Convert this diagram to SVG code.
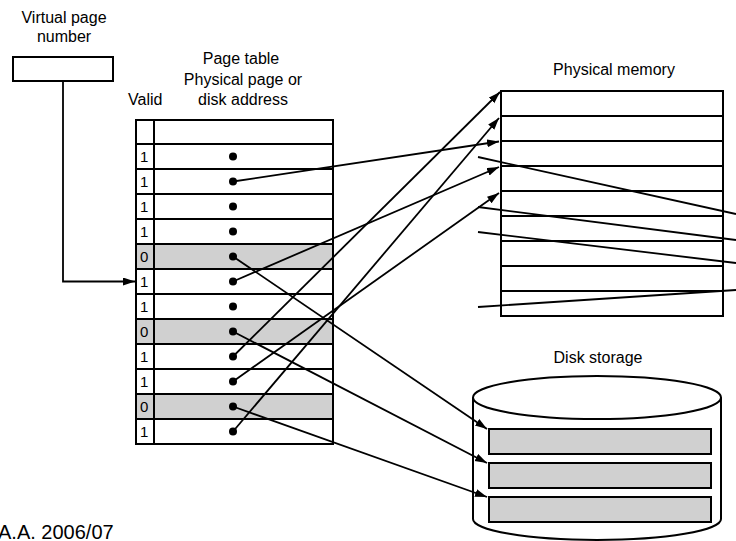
<svg xmlns="http://www.w3.org/2000/svg" width="736" height="541" viewBox="0 0 736 541">
<style>
text{font-family:"Liberation Sans",Arial,sans-serif;fill:#000}
.lbl{font-size:16px}
.mid{text-anchor:middle}
.bit{font-size:15px}
.box{fill:#fff;stroke:#000;stroke-width:2}
.shade{fill:#d0d0d0;stroke:#000;stroke-width:2}
.ln{stroke:#000;stroke-width:2;fill:none}
.conn{stroke:#000;stroke-width:1.8;fill:none}
.arr{marker-end:url(#ah)}
.dot{fill:#000}
</style>
<defs>
<marker id="ah" markerUnits="userSpaceOnUse" markerWidth="13" markerHeight="9" refX="12" refY="4" orient="auto">
<path d="M0,0 L12,4 L0,8 z" fill="#000"/>
</marker>
</defs>
<rect width="736" height="541" fill="#fff"/>

<g id="vpn">
<text class="lbl mid" x="64" y="23">Virtual page</text>
<text class="lbl mid" x="64" y="42">number</text>
<rect class="box" x="13" y="57" width="100" height="24"/>
</g>

<g id="page-table">
<text class="lbl mid" x="241" y="64">Page table</text>
<text class="lbl mid" x="243" y="85">Physical page or</text>
<text class="lbl mid" x="243" y="105">disk address</text>
<text class="lbl" x="128" y="105">Valid</text>
<rect class="box" x="136" y="120" width="197" height="324"/>
<rect class="box" x="136" y="144" width="197" height="25"/>
<rect class="box" x="136" y="169" width="197" height="25"/>
<rect class="box" x="136" y="194" width="197" height="25"/>
<rect class="box" x="136" y="219" width="197" height="25"/>
<rect class="shade" x="136" y="244" width="197" height="25"/>
<rect class="box" x="136" y="269" width="197" height="25"/>
<rect class="box" x="136" y="294" width="197" height="25"/>
<rect class="shade" x="136" y="319" width="197" height="25"/>
<rect class="box" x="136" y="344" width="197" height="25"/>
<rect class="box" x="136" y="369" width="197" height="25"/>
<rect class="shade" x="136" y="394" width="197" height="25"/>
<rect class="box" x="136" y="419" width="197" height="25"/>
<line class="ln" x1="154" y1="120" x2="154" y2="444"/>
<g class="bit">
<text x="140" y="162">1</text>
<text x="140" y="187">1</text>
<text x="140" y="212">1</text>
<text x="140" y="237">1</text>
<text x="140" y="262">0</text>
<text x="140" y="287">1</text>
<text x="140" y="312">1</text>
<text x="140" y="337">0</text>
<text x="140" y="362">1</text>
<text x="140" y="387">1</text>
<text x="140" y="412">0</text>
<text x="140" y="437">1</text>
</g>
<g class="dot">
<circle cx="233" cy="156.5" r="4"/>
<circle cx="233" cy="181.5" r="4"/>
<circle cx="233" cy="206.5" r="4"/>
<circle cx="233" cy="231.5" r="4"/>
<circle cx="233" cy="256.5" r="4"/>
<circle cx="233" cy="281.5" r="4"/>
<circle cx="233" cy="306.5" r="4"/>
<circle cx="233" cy="331.5" r="4"/>
<circle cx="233" cy="356.5" r="4"/>
<circle cx="233" cy="381.5" r="4"/>
<circle cx="233" cy="406.5" r="4"/>
<circle cx="233" cy="431.5" r="4"/>
</g>
</g>

<g id="physical-memory">
<text class="lbl mid" x="614" y="75">Physical memory</text>
<rect class="box" x="501" y="91" width="222" height="225"/>
<line class="ln" x1="501" y1="116" x2="723" y2="116"/>
<line class="ln" x1="501" y1="141" x2="723" y2="141"/>
<line class="ln" x1="501" y1="166" x2="723" y2="166"/>
<line class="ln" x1="501" y1="191" x2="723" y2="191"/>
<line class="ln" x1="501" y1="216" x2="723" y2="216"/>
<line class="ln" x1="501" y1="241" x2="723" y2="241"/>
<line class="ln" x1="501" y1="266" x2="723" y2="266"/>
<line class="ln" x1="501" y1="291" x2="723" y2="291"/>
</g>

<g id="disk-storage">
<text class="lbl mid" x="598" y="363">Disk storage</text>
<path class="box" d="M473,397.5 L473,519 A124,21 0 0 0 721,519 L721,397.5"/>
<ellipse class="box" cx="597" cy="397.5" rx="124" ry="21.5"/>
<rect class="shade" x="489" y="429" width="222" height="25"/>
<rect class="shade" x="489" y="463" width="222" height="25"/>
<rect class="shade" x="489" y="497" width="222" height="25"/>
</g>

<g id="connectors">
<polyline class="conn arr" points="63,81 63,281.5 135,281.5"/>
<line class="conn arr" x1="233" y1="181.5" x2="499" y2="141.5"/>
<line class="conn arr" x1="233" y1="281.5" x2="499" y2="167"/>
<line class="conn arr" x1="233" y1="356.5" x2="500" y2="92"/>
<line class="conn arr" x1="233" y1="381.5" x2="499" y2="193"/>
<line class="conn arr" x1="233" y1="431.5" x2="499" y2="118"/>
<line class="conn arr" x1="233" y1="256.5" x2="487" y2="429"/>
<line class="conn arr" x1="233" y1="331.5" x2="487" y2="463"/>
<line class="conn arr" x1="233" y1="406.5" x2="487" y2="497"/>
<line class="conn" x1="478" y1="157" x2="736" y2="214"/>
<line class="conn" x1="478" y1="207" x2="736" y2="240"/>
<line class="conn" x1="478" y1="232" x2="736" y2="263"/>
<line class="conn" x1="478" y1="307" x2="736" y2="290"/>
</g>

<text x="-2" y="539" style="font-size:20px">A.A. 2006/07</text>
</svg>
